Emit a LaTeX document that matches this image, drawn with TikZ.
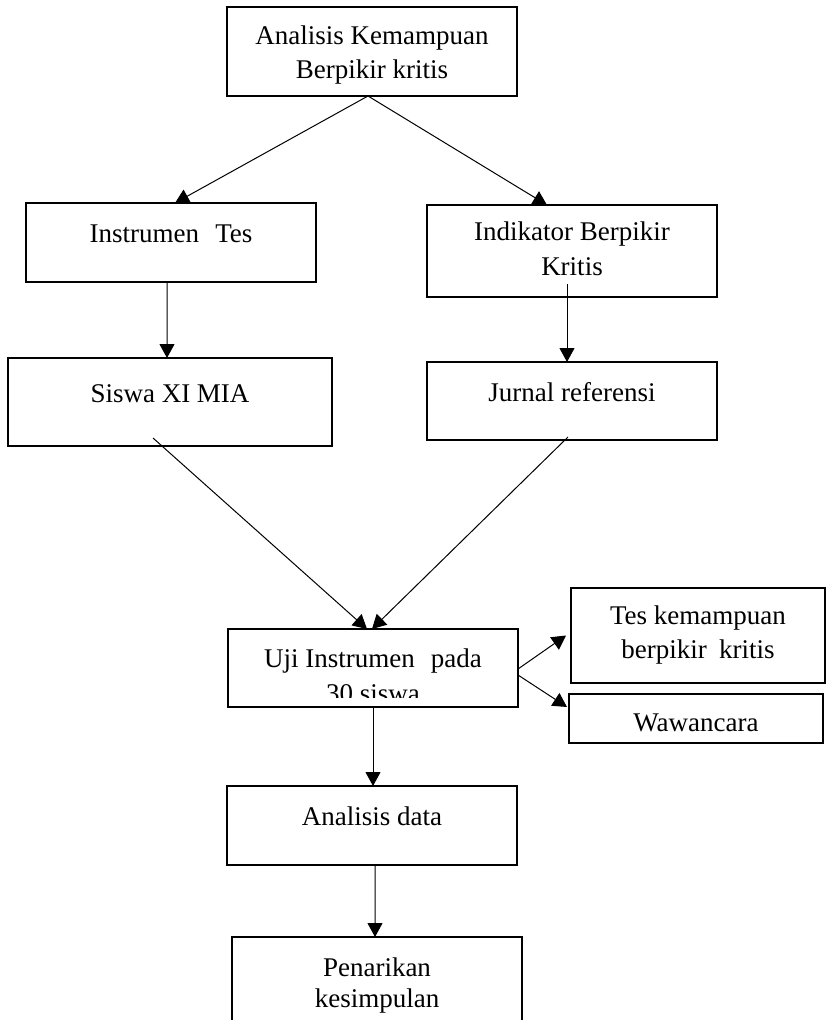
\documentclass[tikz,border=0pt]{standalone}
\usepackage{fontspec}
\setmainfont{Liberation Serif}
\usetikzlibrary{arrows.meta,calc}
\begin{document}
\begin{tikzpicture}[x=1bp,y=-1bp,
  box/.style={draw=black,line width=1.1bp,rectangle,inner sep=0pt,outer sep=0pt},
  txt/.style={anchor=base,inner sep=0pt,outer sep=0pt,font=\fontsize{27bp}{35bp}\selectfont},
  arr/.style={line width=1bp,-{Triangle[length=14bp,width=15bp]}},
  ln/.style={line width=1bp}]
\useasboundingbox (0,0) rectangle (826,1020);
\clip (0,0) rectangle (826,1020);
\fill[white] (0,0) rectangle (826,1020);
% boxes
\node[box,minimum width=290bp,minimum height=89bp] (top) at (372,51.5) {};
\node[box,minimum width=290bp,minimum height=79bp] (instr) at (171,242.5) {};
\node[box,minimum width=290bp,minimum height=92bp] (indik) at (572,251) {};
\node[box,minimum width=324bp,minimum height=88bp] (siswa) at (170,402) {};
\node[box,minimum width=290bp,minimum height=78bp] (jurnal) at (572,401) {};
\node[box,minimum width=290bp,minimum height=78bp] (uji) at (373,668) {};
\node[box,minimum width=254bp,minimum height=95bp] (tes) at (698,635.5) {};
\node[box,minimum width=254bp,minimum height=49bp] (waw) at (696,718.5) {};
\node[box,minimum width=290bp,minimum height=79bp] (anal) at (372,825.5) {};
\node[box,minimum width=290bp,minimum height=110bp] (pen) at (377,992) {};
% texts
\node[txt] (topA) at (372,44) {Analisis Kemampuan};
\node[txt] (topB) at (372,78) {Berpikir kritis};
\node[txt] (instrA) at (171,242) {Instrumen\hspace{0.35em} Tes};
\node[txt] (indikA) at (572,240) {Indikator Berpikir};
\node[txt] (indikB) at (572,275) {Kritis};
\node[txt] (siswaA) at (170,402) {Siswa XI MIA};
\node[txt] (jurnalA) at (572,401) {Jurnal referensi};
\node[txt] (ujiA) at (373,667) {Uji Instrumen\hspace{0.35em} pada};
\begin{scope}
\clip (uji.north west) rectangle ([yshift=10bp]uji.south east);
\node[txt] (ujiB) at (373,702) {30 siswa};
\end{scope}
\node[txt] (tesA) at (698,624) {Tes kemampuan};
\node[txt] (tesB) at (698,658) {berpikir\hspace{0.2em} kritis};
\node[txt] (wawA) at (696,731) {Wawancara};
\node[txt] (analA) at (372,825) {Analisis data};
\node[txt] (penA) at (377,976) {Penarikan};
\node[txt] (penB) at (377,1007) {kesimpulan};
% connectors
\draw[arr] ([xshift=-4bp]top.south) -- ([xshift=4bp]instr.north);
\draw[arr] ([xshift=-4bp]top.south) -- ([xshift=-25bp]indik.north);
\draw[arr] ([xshift=-4bp]instr.south) -- ([xshift=-3bp]siswa.north);
\draw[arr] ([xshift=-5bp,yshift=13bp]indik.south) -- ([xshift=-5bp]jurnal.north);
\draw[arr] ([xshift=-17bp,yshift=8bp]siswa.south) -- ([xshift=-6bp]uji.north);
\draw[arr] ([xshift=-4bp,yshift=3bp]jurnal.south) -- ([xshift=-1bp]uji.north);
\draw[arr] ([yshift=-1bp]uji.east) -- ([xshift=-5bp]tes.west);
\draw[arr] ([yshift=-7bp]uji.east) -- ([xshift=-2bp,yshift=11.5bp]waw.west);
\draw[arr] (uji.south) -- ([xshift=1bp]anal.north);
\draw[arr] ([xshift=3bp]anal.south) -- ([xshift=-2bp]pen.north);
\end{tikzpicture}
\end{document}
